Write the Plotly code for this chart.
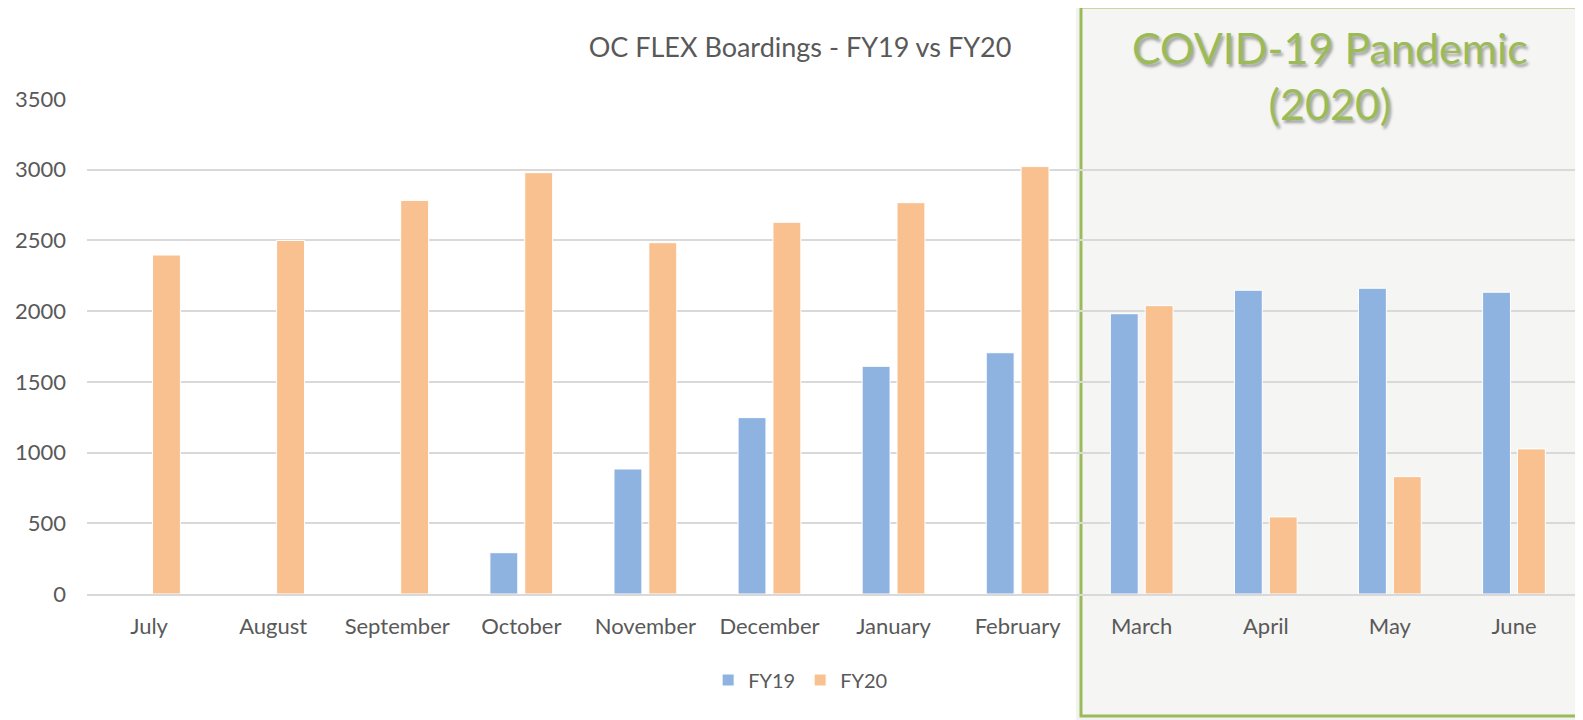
import plotly.graph_objects as go

months = ["July", "August", "September", "October", "November", "December",
          "January", "February", "March", "April", "May", "June"]
fy19 = [None, None, None, 292, 884, 1247, 1610, 1706, 1982, 2148, 2162, 2134]
fy20 = [2397, 2500, 2783, 2979, 2484, 2628, 2767, 3022, 2039, 545, 830, 1026]
y_ticks = [0, 500, 1000, 1500, 2000, 2500, 3000, 3500]

OFF = 8  # page body margin
W, H = 1583 - OFF, 720 - OFF
# plot area in page pixels: x 81..1576, y 99..594
L, R, T, B = 81 - OFF, 7, 99 - OFF, 720 - 594
pw = W - L - R
ph = H - T - B

def px_x(x):  # page pixel -> paper fraction
    return (x - OFF - L) / pw

def px_y(y):
    return (H - B - (y - OFF)) / ph

FONT = "Lato, 'Open Sans', sans-serif"
GREY = "#595959"

fig = go.Figure()
fig.add_trace(go.Bar(name="FY19", x=months, y=fy19,
                     marker=dict(color="#8FB3E1", line=dict(color="white", width=1))))
fig.add_trace(go.Bar(name="FY20", x=months, y=fy20,
                     marker=dict(color="#F9C18F", line=dict(color="white", width=1))))

# shadow of the COVID box
fig.add_shape(type="rect", xref="paper", yref="paper", layer="below",
              x0=px_x(1074), x1=px_x(1583), y0=px_y(721), y1=px_y(2),
              fillcolor="rgba(0,0,0,0.05)", line=dict(width=0))
# COVID box
fig.add_shape(type="rect", xref="paper", yref="paper", layer="below",
              x0=px_x(1079), x1=px_x(1579), y0=px_y(716), y1=px_y(7),
              fillcolor="#F5F5F3", line=dict(color="#9BBB59", width=3))

fig.add_annotation(xref="paper", yref="paper", x=px_x(1329), y=px_y(76),
                   text="COVID-19 Pandemic<br>(2020)", showarrow=False,
                   xanchor="center", yanchor="middle",
                   font=dict(family=FONT, size=43, color="#9BBB59",
                             shadow="2px 3px 3px rgba(0,0,0,0.35)"))

fig.update_layout(
    width=W, height=H,
    margin=dict(l=L, r=R, t=T, b=B),
    paper_bgcolor="white", plot_bgcolor="rgba(0,0,0,0)",
    barmode="group", bargap=0.438, bargroupgap=0.2,
    title=dict(text="OC FLEX Boardings - FY19 vs FY20", x=(800 - OFF) / W, xanchor="center",
               y=1 - (48 - OFF) / H, yanchor="middle",
               font=dict(family=FONT, size=27, color=GREY)),
    font=dict(family=FONT, size=21, color=GREY),
    legend=dict(orientation="h", x=px_x(797), xanchor="center", y=px_y(680), yanchor="middle",
                font=dict(family=FONT, size=20, color=GREY), bgcolor="rgba(0,0,0,0)"),
    showlegend=True,
)
fig.update_xaxes(showgrid=False, showline=True, linecolor="#D9D9D9", linewidth=1.5,
                 ticks="", ticklabelstandoff=12, tickfont=dict(family=FONT, size=22, color=GREY))
fig.update_yaxes(range=[0, 3500], tickvals=y_ticks, showgrid=True, gridcolor="#D9D9D9",
                 gridwidth=1.5, zeroline=False, showline=False, ticks="",
                 ticklabelstandoff=20, tickfont=dict(family=FONT, size=22, color=GREY))

fig.write_html("out.html")
